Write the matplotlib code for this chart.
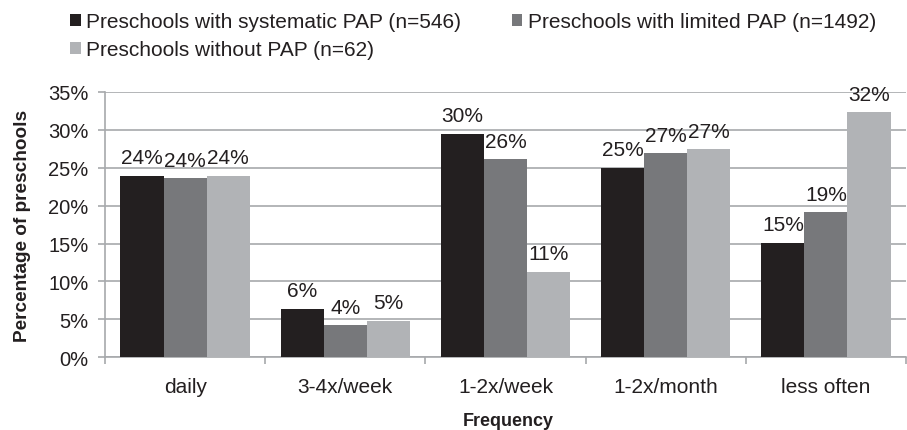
import matplotlib.pyplot as plt
import numpy as np

plt.rcParams['font.family'] = ['Liberation Sans', 'DejaVu Sans']

categories = ['daily', '3-4x/week', '1-2x/week', '1-2x/month', 'less often']
systematic = [23.9, 6.4, 29.5, 25.0, 15.1]
limited = [23.6, 4.2, 26.1, 26.9, 19.1]
without = [23.9, 4.8, 11.3, 27.4, 32.3]
series_names = ['Preschools with systematic PAP (n=546)',
                'Preschools with limited PAP (n=1492)',
                'Preschools without PAP (n=62)']
colors = ['#231f20', '#77787b', '#b1b3b6']

fig = plt.figure(figsize=(9.07, 4.31), dpi=100)
ax = fig.add_axes([0.1158, 0.1687, 0.8831, 0.616])

x = np.arange(len(categories))
w = 0.269
bars = []
for k, vals in enumerate([systematic, limited, without]):
    b = ax.bar(x + (k - 1) * w, vals, width=w, color=colors[k],
               label=series_names[k], zorder=3)
    bars.append(b)
    for xi, v in zip(x + (k - 1) * w, vals):
        ax.text(xi, v + 1.65, f'{round(v):.0f}%', ha='center', va='baseline',
                fontsize=15, color='#231f20', zorder=4)

ax.set_xlim(-0.5, len(categories) - 0.5)
ax.set_ylim(0, 35)
ax.set_yticks(np.arange(0, 36, 5))
ax.set_yticklabels([f'{t}%' for t in range(0, 36, 5)], fontsize=14.5, color='#231f20')
ax.yaxis.grid(True, color='#a7a9ac', linewidth=1.2, zorder=0)
ax.set_axisbelow(True)

ax.set_xticks(x)
ax.set_xticklabels(categories, fontsize=15, color='#231f20')
ax.tick_params(axis='x', which='major', length=0, pad=14.5)
ax.set_xticks(np.arange(-0.5, len(categories), 1), minor=True)
ax.tick_params(axis='x', which='minor', length=5, color='#a7a9ac', width=1.2)
ax.tick_params(axis='y', length=5, color='#a7a9ac', width=1.2, pad=7)

for s in ['top', 'right']:
    ax.spines[s].set_visible(False)
for s in ['left', 'bottom']:
    ax.spines[s].set_color('#a7a9ac')
    ax.spines[s].set_linewidth(1.2)

ax.set_ylabel('Percentage of preschools', fontsize=13.7, fontweight='bold',
              color='#231f20', labelpad=12)
fig.text(0.5606, 0.012, 'Frequency', ha='center', va='baseline', fontsize=13,
         fontweight='bold', color='#231f20')

order = [bars[0], bars[2], bars[1]]
fig.legend(handles=order, labels=[series_names[0], series_names[2], series_names[1]],
           loc='upper left', bbox_to_anchor=(0.0565, 1.013),
           ncol=2, frameon=False, fontsize=15, handlelength=0.51,
           handleheight=0.51, handletextpad=0.25, columnspacing=2.45,
           labelspacing=0.42, labelcolor='#231f20')

fig.savefig('out.png', dpi=100)
